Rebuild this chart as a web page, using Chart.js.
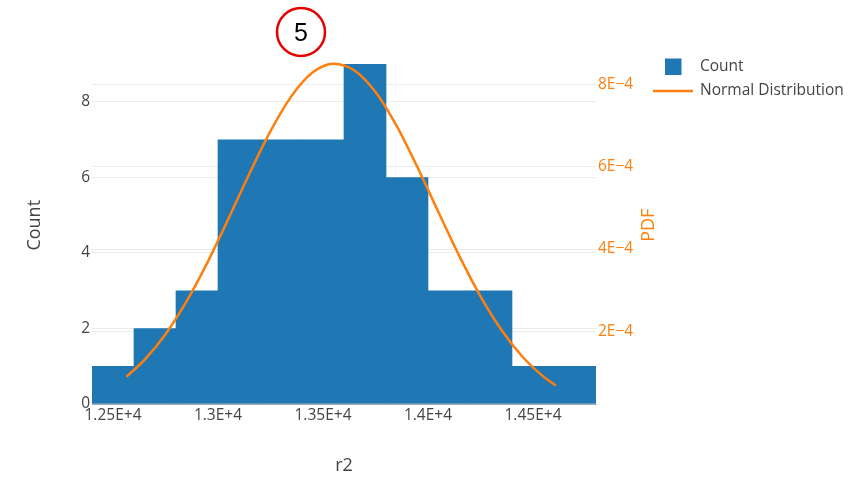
<!DOCTYPE html>
<html>
<head>
<meta charset="utf-8">
<title>r2 histogram</title>
<script src="https://cdn.jsdelivr.net/npm/chart.js@4.4.1/dist/chart.umd.min.js"></script>
<style>
  html, body { margin: 0; padding: 0; background: #fff; }
  #wrap { width: 858px; height: 477px; }
</style>
</head>
<body>
<div id="wrap"><canvas id="chart" width="858" height="477"></canvas></div>
<script>
// Histogram bins (centre of each 200-wide bin) and their counts
const binCenters = [12500, 12700, 12900, 13100, 13300, 13500, 13700, 13900, 14100, 14300, 14500, 14700];
const counts = [1, 2, 3, 7, 7, 7, 9, 6, 3, 3, 1, 1];

// Fitted normal density, sampled along r2
const pdfX = [12567, 12650, 12750, 12850, 12950, 13050, 13150, 13250, 13350, 13450, 13550,
              13650, 13750, 13850, 13950, 14050, 14150, 14250, 14350, 14450, 14550, 14605];
const pdfY = [9.15e-5, 1.31e-4, 1.934e-4, 2.729e-4, 3.677e-4, 4.739e-4, 5.834e-4, 6.861e-4, 7.711e-4, 8.282e-4, 8.499e-4,
              8.334e-4, 7.81e-4, 6.993e-4, 5.983e-4, 4.892e-4, 3.822e-4, 2.853e-4, 2.036e-4, 1.387e-4, 9.04e-5, 7.0e-5];

// Tick values for each axis
const xTicks = [12500, 13000, 13500, 14000, 14500];
const countTicks = [0, 2, 4, 6, 8];
const pdfTicks = [2e-4, 4e-4, 6e-4, 8e-4];

const seriesNames = ['Count', 'Normal Distribution'];
const xTitle = 'r2';
const countTitle = 'Count';
const pdfTitle = 'PDF';
const badgeText = '5';

const BLUE = '#1f77b4';
const ORANGE = '#ff7f0e';
const TEXT = '#444';
const FONT = "'Open Sans', 'DejaVu Sans', sans-serif";

// Legend drawn in the right margin: swatch + name per series, in series order
const sideLegend = {
  id: 'sideLegend',
  afterDraw(chart) {
    const ctx = chart.ctx;
    ctx.save();
    ctx.font = '15.5px ' + FONT;
    ctx.textBaseline = 'middle';
    ctx.textAlign = 'left';
    seriesNames.forEach((name, i) => {
      const ds = chart.data.datasets.find(d => d.label === name);
      const y = 67 + i * 24;
      if (ds.type === 'line') {
        ctx.strokeStyle = ds.borderColor;
        ctx.lineWidth = 2.5;
        ctx.beginPath();
        ctx.moveTo(653, y);
        ctx.lineTo(693, y);
        ctx.stroke();
      } else {
        ctx.fillStyle = ds.backgroundColor;
        ctx.fillRect(665, y - 8.5, 16.5, 16.5);
      }
      ctx.fillStyle = TEXT;
      ctx.fillText(name, 700, y);
    });
    ctx.restore();
  }
};

// Right-axis title, reading bottom-to-top like the left one
const rightTitle = {
  id: 'rightTitle',
  afterDraw(chart) {
    const s = chart.scales.y1;
    const ctx = chart.ctx;
    ctx.save();
    ctx.translate(649, (s.top + s.bottom) / 2);
    ctx.rotate(-Math.PI / 2);
    ctx.font = '18px ' + FONT;
    ctx.fillStyle = ORANGE;
    ctx.textAlign = 'center';
    ctx.textBaseline = 'middle';
    ctx.fillText(pdfTitle, 0, 0);
    ctx.restore();
  }
};

// Circled number above the plot
const badge = {
  id: 'badge',
  afterDraw(chart) {
    const ctx = chart.ctx;
    ctx.save();
    ctx.beginPath();
    ctx.arc(301, 32, 24, 0, Math.PI * 2);
    ctx.lineWidth = 2.5;
    ctx.strokeStyle = '#e60000';
    ctx.stroke();
    ctx.fillStyle = '#000';
    ctx.font = '25px "Liberation Sans", Arial, sans-serif';
    ctx.textAlign = 'center';
    ctx.textBaseline = 'middle';
    ctx.fillText(badgeText, 301, 34);
    ctx.restore();
  }
};

const tickFont = { family: FONT, size: 15.5 };
const titleFont = { family: FONT, size: 18 };

new Chart(document.getElementById('chart'), {
  type: 'bar',
  data: {
    datasets: [
      {
        type: 'bar',
        label: seriesNames[0],
        data: binCenters.map((x, i) => ({ x: x, y: counts[i] })),
        yAxisID: 'y',
        backgroundColor: BLUE,
        borderWidth: 0,
        barPercentage: 1,
        categoryPercentage: 1,
        grouped: false,
        order: 1
      },
      {
        type: 'line',
        label: seriesNames[1],
        data: pdfX.map((x, i) => ({ x: x, y: pdfY[i] })),
        yAxisID: 'y1',
        borderColor: ORANGE,
        borderWidth: 2.5,
        borderCapStyle: 'round',
        pointRadius: 0,
        cubicInterpolationMode: 'monotone',
        fill: false,
        order: 0
      }
    ]
  },
  options: {
    responsive: false,
    animation: false,
    devicePixelRatio: 1,
    layout: { padding: { left: 0, right: 182, top: 46.5, bottom: 0 } },
    plugins: { legend: { display: false }, tooltip: { enabled: false } },
    scales: {
      x: {
        type: 'linear',
        min: 12400,
        max: 14800,
        offset: false,
        afterBuildTicks: s => { s.ticks = xTicks.map(v => ({ value: v })); },
        afterFit: s => { s.height = 73; },
        grid: { display: false, drawTicks: false, offset: false },
        border: { display: true, color: '#a8a8a8', width: 1, z: 1 },
        ticks: {
          padding: 2,
          maxRotation: 0,
          autoSkip: false,
          color: TEXT,
          font: tickFont,
          callback: v => parseFloat((v / 1e4).toFixed(2)) + 'E+4'
        },
        title: { display: true, text: xTitle, color: TEXT, font: titleFont, padding: { top: 0, bottom: 0.5 } }
      },
      y: {
        position: 'left',
        min: 0,
        max: 9.47,
        afterBuildTicks: s => { s.ticks = countTicks.map(v => ({ value: v })); },
        afterFit: s => { s.width = 92; },
        grid: {
          drawTicks: false,
          color: c => (c.tick && c.tick.value === 0) ? 'rgba(0,0,0,0)' : '#ebebeb',
          lineWidth: 1
        },
        border: { display: false },
        ticks: { padding: 2, color: TEXT, font: tickFont },
        title: { display: true, text: countTitle, color: TEXT, font: titleFont, padding: { top: 24, bottom: 0 } }
      },
      y1: {
        position: 'right',
        min: 2.4e-5,
        max: 8.915e-4,
        afterBuildTicks: s => { s.ticks = pdfTicks.map(v => ({ value: v })); },
        afterFit: s => { s.width = 80; },
        grid: { drawTicks: false, color: '#ebebeb', lineWidth: 1 },
        border: { display: false },
        ticks: {
          padding: 2,
          color: ORANGE,
          font: tickFont,
          callback: v => Math.round(v * 1e4) + 'E\u22124'
        },
        title: { display: false }
      }
    }
  },
  plugins: [sideLegend, rightTitle, badge]
});
</script>
</body>
</html>
